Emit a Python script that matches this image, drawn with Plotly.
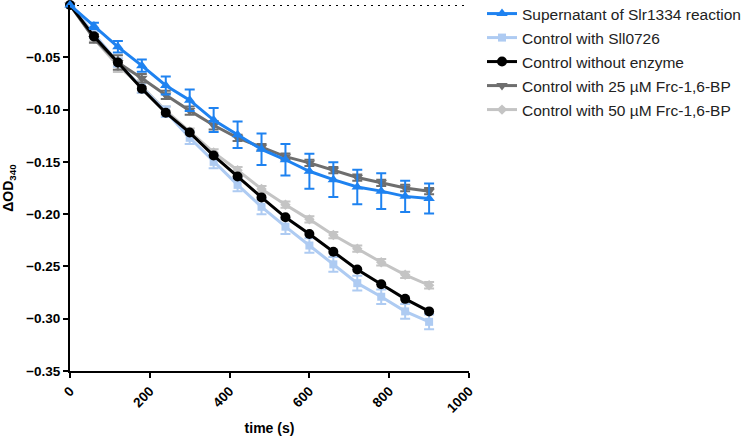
import plotly.graph_objects as go

time_s = [0, 60, 120, 180, 240, 300, 360, 420, 480, 540, 600, 660, 720, 780, 840, 900]

slr1334 = [0, -0.020, -0.040, -0.058, -0.077, -0.091, -0.110, -0.124, -0.138, -0.148, -0.159, -0.167, -0.174, -0.178, -0.183, -0.185]
slr1334_err = [0, 0.003, 0.0055, 0.0058, 0.0086, 0.0103, 0.0115, 0.0127, 0.0150, 0.0150, 0.0167, 0.0167, 0.0165, 0.0170, 0.0150, 0.0143]

sll0726 = [0, -0.028, -0.055, -0.079, -0.102, -0.127, -0.150, -0.172, -0.193, -0.212, -0.230, -0.248, -0.266, -0.279, -0.293, -0.303]
sll0726_err = [0, 0.003, 0.004, 0.005, 0.005, 0.006, 0.006, 0.006, 0.007, 0.007, 0.007, 0.007, 0.007, 0.007, 0.007, 0.007]

no_enzyme = [0, -0.030, -0.055, -0.080, -0.103, -0.122, -0.144, -0.164, -0.184, -0.203, -0.219, -0.236, -0.253, -0.267, -0.281, -0.293]

frc25 = [0, -0.032, -0.055, -0.070, -0.086, -0.101, -0.115, -0.127, -0.136, -0.145, -0.151, -0.158, -0.165, -0.170, -0.175, -0.178]
frc25_err = [0, 0.004, 0.007, 0.004, 0.004, 0.004, 0.004, 0.003, 0.003, 0.003, 0.003, 0.003, 0.003, 0.003, 0.003, 0.003]

frc50 = [0, -0.032, -0.058, -0.078, -0.101, -0.121, -0.141, -0.158, -0.176, -0.191, -0.205, -0.220, -0.233, -0.246, -0.258, -0.268]
frc50_err = [0, 0.003, 0.006, 0.006, 0.004, 0.003, 0.003, 0.003, 0.003, 0.003, 0.003, 0.003, 0.003, 0.003, 0.003, 0.003]

names = ["Supernatant of Slr1334 reaction", "Control with Sll0726", "Control without enzyme",
         "Control with 25 µM Frc-1,6-BP", "Control with 50 µM Frc-1,6-BP"]

C_BLUE = "#1E82F0"
C_LBLUE = "#AECBF2"
C_BLACK = "#000000"
C_DGRAY = "#6E6E6E"
C_LGRAY = "#C4C4C4"

FONT = "Liberation Sans, Arial, sans-serif"
LEGEND_ROWS_PX = [14, 38, 62, 86, 110]

fig = go.Figure()

def add(name, y, err, color, symbol, msize, rank, lw=3):
    fig.add_trace(go.Scatter(
        x=time_s, y=y, name=name, mode="lines+markers",
        line=dict(color=color, width=lw),
        marker=dict(color=color, symbol=symbol, size=msize),
        error_y=(dict(type="data", array=err, visible=True, color=color, thickness=2, width=5)
                 if err is not None else None),
        legend="legend" if rank == 1 else "legend%d" % rank, cliponaxis=False,
    ))

add(names[4], frc50, frc50_err, C_LGRAY, "diamond", 8, 5)
add(names[1], sll0726, sll0726_err, C_LBLUE, "square", 8, 2)
add(names[3], frc25, frc25_err, C_DGRAY, "triangle-down", 10, 4)
add(names[2], no_enzyme, None, C_BLACK, "circle", 10, 3)
add(names[0], slr1334, slr1334_err, C_BLUE, "triangle-up", 10, 1)

fig.add_shape(type="line", x0=0, x1=1000, y0=0, y1=0, xref="x", yref="y",
              line=dict(color="black", width=2, dash="2px,5px"), layer="below")

legends = {}
for i, row in enumerate(LEGEND_ROWS_PX):
    key = "legend" if i == 0 else "legend%d" % (i + 1)
    legends[key] = dict(x=1.0326, xanchor="left", yref="container", y=1 - row / 440.0,
                        yanchor="middle",
                        font=dict(family=FONT, size=15.5, color="#222222"),
                        bgcolor="rgba(0,0,0,0)")

fig.update_layout(
    width=750, height=440,
    margin=dict(l=70, r=281, t=5, b=69, autoexpand=False),
    paper_bgcolor="white", plot_bgcolor="white",
    font=dict(family=FONT, color="black"),
    showlegend=True,
    xaxis=dict(range=[0, 1000], tickvals=[0, 200, 400, 600, 800, 1000],
               tickangle=-45, showgrid=False, zeroline=False,
               showline=True, linecolor="black", linewidth=2,
               ticks="outside", ticklen=5, tickwidth=2, tickcolor="black",
               tickfont=dict(family=FONT, size=13.5, weight="bold"),
               title=dict(text="time (s)", font=dict(family=FONT, size=14, weight="bold"), standoff=9)),
    yaxis=dict(range=[-0.35, 0], tickvals=[-0.35, -0.30, -0.25, -0.20, -0.15, -0.10, -0.05],
               tickformat=".2f", showgrid=False, zeroline=False,
               showline=True, linecolor="black", linewidth=2,
               ticks="outside", ticklen=5, tickwidth=2, tickcolor="black",
               tickfont=dict(family=FONT, size=13.5, weight="bold"),
               title=dict(text="ΔOD<sub>340</sub>", font=dict(family=FONT, size=14, weight="bold"), standoff=14)),
    **legends,
)

fig.write_html("out.html", config={"displayModeBar": False},
               post_script="document.body.style.margin='0px';")
